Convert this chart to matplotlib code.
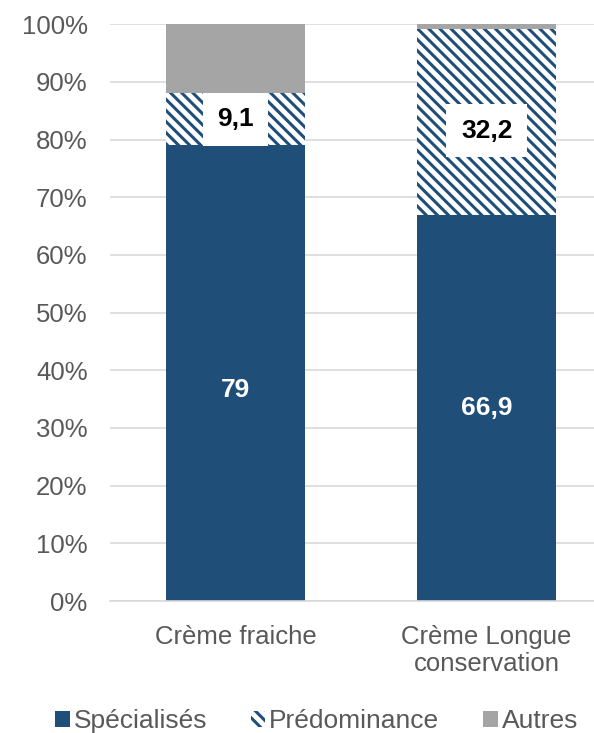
import matplotlib.pyplot as plt
import matplotlib as mpl
from matplotlib.patches import Patch

categories = ['Crème fraiche', 'Crème Longue\nconservation']
specialises = [79.0, 66.9]
predominance = [9.1, 32.2]
autres = [11.9, 0.9]

blue = '#1F4E79'
grey = '#A5A5A5'
txt = '#595959'

mpl.rcParams['font.family'] = ['Liberation Sans', 'DejaVu Sans']
mpl.rcParams['hatch.color'] = blue
mpl.rcParams['hatch.linewidth'] = 2.2

fig = plt.figure(figsize=(5.94, 7.33), dpi=100)
ax = fig.add_axes([0.185, 0.18, 0.815, 0.787])

x = [0, 1]
w = 0.554
ax.bar(x, specialises, w, color=blue, zorder=2)
ax.bar(x, predominance, w, bottom=specialises, color='white', edgecolor=blue,
       hatch='\\\\\\', linewidth=0, zorder=2)
bottom3 = [a + b for a, b in zip(specialises, predominance)]
ax.bar(x, autres, w, bottom=bottom3, color=grey, zorder=2)

# data labels (some were nudged by hand in the original)
nudge_spec = [-12, 0]
nudge_pred = [0, -6]
for i in x:
    ax.annotate(f'{specialises[i]:g}'.replace('.', ','), (i, specialises[i] / 2),
                xytext=(0, nudge_spec[i]), textcoords='offset points',
                ha='center', va='center', color='white',
                fontsize=19, fontweight='bold', zorder=3)
    ax.annotate(f'{predominance[i]:g}'.replace('.', ','),
                (i, specialises[i] + predominance[i] / 2),
                xytext=(0, nudge_pred[i]), textcoords='offset points',
                ha='center', va='center', color='black', fontsize=19, fontweight='bold',
                zorder=3, bbox=dict(boxstyle='square,pad=0.55', fc='white', ec='none'))

ax.set_ylim(0, 100)
ax.set_xlim(-0.5, 1.428)
ax.set_yticks(range(0, 101, 10))
ax.set_yticklabels([f'{v}%' for v in range(0, 101, 10)])
ax.set_xticks(x)
ax.set_xticklabels(categories)
ax.tick_params(axis='both', labelsize=18.5, colors=txt, length=0)
ax.tick_params(axis='y', pad=16)
ax.tick_params(axis='x', pad=17)
ax.grid(axis='y', color='#D9D9D9', linewidth=1.2, zorder=0)
ax.set_axisbelow(True)
for s in ['top', 'right', 'left']:
    ax.spines[s].set_visible(False)
ax.spines['bottom'].set_color('#D9D9D9')
ax.spines['bottom'].set_linewidth(1.2)

handles = [Patch(facecolor=blue, label='Spécialisés'),
           Patch(facecolor='white', edgecolor=blue, hatch='\\\\\\', linewidth=0, label='Prédominance'),
           Patch(facecolor=grey, label='Autres')]
fig.legend(handles=handles, loc='center', bbox_to_anchor=(0.533, 0.016), ncol=3,
           frameon=False, fontsize=19, handlelength=0.55, handleheight=0.55,
           handletextpad=0.15, columnspacing=1.65, labelcolor=txt)

fig.savefig('out.png', dpi=100)
